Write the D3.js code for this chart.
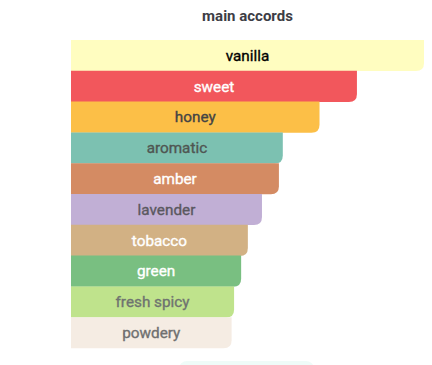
<!DOCTYPE html>
<html>
<head>
<meta charset="utf-8">
<script src="https://cdn.jsdelivr.net/npm/d3@7"></script>
<style>
  html, body { margin: 0; padding: 0; background: #fff; }
  svg { display: block; font-family: Roboto, "Noto Sans", sans-serif; }
</style>
</head>
<body>
<svg id="chart" width="432" height="365"></svg>
<script>
const accords = ["vanilla", "sweet", "honey", "aromatic", "amber", "lavender", "tobacco", "green", "fresh spicy", "powdery"];
const strengths = [100, 81, 70.4, 60, 58.9, 54.1, 50.1, 48.2, 46.2, 45.5];
const barColors = ["#fffdc0", "#f2575c", "#fcbf47", "#7cc1b1", "#d48b63", "#c1afd5", "#d2b184", "#79bf81", "#bfe38c", "#f5ece3"];
const textColors = ["#000000", "#ffffff", "#444444", "#4f5652", "#ffffff", "#5a5860", "#ffffff", "#ffffff", "#6f7370", "#707070"];

const width = 432, height = 365;
const margin = { top: 40, left: 71, right: 8, bottom: 17 };

const svg = d3.select("#chart");

const x = d3.scaleLinear()
    .domain([0, 100])
    .range([margin.left, width - margin.right]);

const y = d3.scaleBand()
    .domain(accords)
    .range([margin.top, height - margin.bottom])
    .padding(0);

// title
svg.append("text")
    .attr("x", (x(0) + x(100)) / 2)
    .attr("y", 21)
    .attr("text-anchor", "middle")
    .attr("font-size", 15)
    .attr("font-weight", "bold")
    .attr("fill", "#3d3d45")
    .text("main accords");

// bar with only the bottom right corner rounded
function barPath(x0, y0, x1, y1, r) {
    return `M${x0},${y0}H${x1}V${y1 - r}Q${x1},${y1} ${x1 - r},${y1}H${x0}Z`;
}

const data = accords.map((name, i) => ({ name, value: strengths[i], fill: barColors[i], color: textColors[i] }));

const rows = svg.append("g")
    .selectAll("g")
    .data(data)
    .join("g");

rows.append("path")
    .attr("d", d => barPath(x(0), y(d.name), x(d.value), y(d.name) + y.bandwidth() + 0.3, 8))
    .attr("fill", d => d.fill);

// regular weight plus a hairline stroke, close to a medium weight
rows.append("text")
    .attr("x", d => (x(0) + x(d.value)) / 2)
    .attr("y", d => y(d.name) + y.bandwidth() / 2)
    .attr("dy", "0.35em")
    .attr("text-anchor", "middle")
    .attr("font-size", 15.3)
    .attr("fill", d => d.color)
    .attr("stroke", d => d.color)
    .attr("stroke-width", 0.35)
    .text(d => d.name);

// start of the next panel, cut off by the window
svg.append("rect")
    .attr("x", 179)
    .attr("y", height - 4)
    .attr("width", 135)
    .attr("height", 16)
    .attr("rx", 8)
    .attr("fill", "#effbf8");
</script>
</body>
</html>
